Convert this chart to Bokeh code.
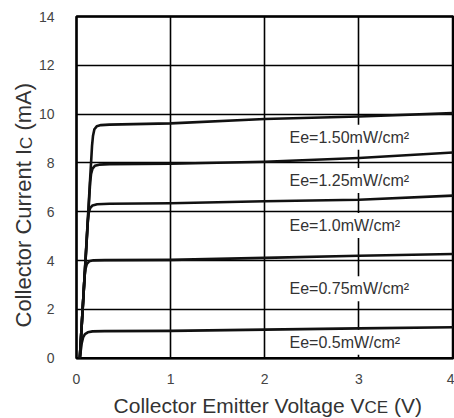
import math
from bokeh.plotting import figure
from bokeh.models import Label, FixedTicker, LinearAxis, Grid
from bokeh.embed import file_html
from bokeh.resources import INLINE

# ---- data ----
x_ticks = [0, 1, 2, 3, 4]
y_ticks = [0, 2, 4, 6, 8, 10, 12, 14]

ee_labels = ["Ee=0.5mW/cm²", "Ee=0.75mW/cm²", "Ee=1.0mW/cm²", "Ee=1.25mW/cm²", "Ee=1.50mW/cm²"]

vce_05 = [0.035, 0.055, 0.07, 0.09, 0.12, 0.17, 0.3, 1.0, 2.0, 3.0, 4.0]
ic_05 = [0.0, 0.6, 0.85, 0.99, 1.06, 1.1, 1.11, 1.12, 1.17, 1.22, 1.27]

vce_075 = [0.035, 0.085, 0.095, 0.11, 0.135, 0.18, 0.3, 1.0, 2.0, 3.0, 4.0]
ic_075 = [0.0, 3.3, 3.65, 3.86, 3.97, 4.01, 4.02, 4.03, 4.11, 4.2, 4.27]

vce_10 = [0.035, 0.12, 0.13, 0.145, 0.17, 0.22, 0.35, 1.0, 2.0, 3.0, 4.0]
ic_10 = [0.0, 5.6, 5.95, 6.15, 6.26, 6.31, 6.33, 6.35, 6.43, 6.49, 6.66]

vce_125 = [0.035, 0.145, 0.155, 0.17, 0.195, 0.24, 0.35, 1.0, 2.0, 3.0, 4.0]
ic_125 = [0.0, 7.2, 7.55, 7.77, 7.88, 7.93, 7.95, 7.97, 8.05, 8.2, 8.43]

vce_150 = [0.035, 0.165, 0.175, 0.19, 0.215, 0.26, 0.35, 1.0, 2.0, 3.0, 4.0]
ic_150 = [0.0, 8.7, 9.1, 9.38, 9.5, 9.55, 9.57, 9.62, 9.8, 9.9, 10.04]

FONT = "Liberation Sans"
TXT = "#333333"

W, H = 454, 418
# pixel positions of the plotting box (x: 0..4, y: 0..14)
PX_L, PX_R, PY_B, PY_T = 76.0, 452.5, 357.7, 16.0
x_lo, x_hi = x_ticks[0], x_ticks[-1]
y_lo, y_hi = y_ticks[0], y_ticks[-1]
sx = (PX_R - PX_L) / (x_hi - x_lo)
sy = (PY_B - PY_T) / (y_hi - y_lo)
xr = (x_lo - PX_L / sx, x_hi + (W - PX_R) / sx)
yr = (y_lo - (H - PY_B) / sy, y_hi + PY_T / sy)

def dx(px):
    return x_lo + (px - PX_L) / sx
def dy(py):
    return y_lo + (PY_B - py) / sy

p = figure(width=W, height=H, x_range=xr, y_range=yr,
           x_axis_type=None, y_axis_type=None,
           output_backend="svg", toolbar_location=None,
           min_border_left=0, min_border_right=0, min_border_top=0, min_border_bottom=0)
p.background_fill_color = "white"
p.border_fill_color = "white"
p.outline_line_color = None

# grid (bounded to the plotting box)
xgrid = Grid(dimension=0, ticker=FixedTicker(ticks=x_ticks), bounds=(x_lo, x_hi), cross_bounds=(y_lo, y_hi),
             grid_line_color="black", grid_line_width=1.6)
ygrid = Grid(dimension=1, ticker=FixedTicker(ticks=y_ticks), bounds=(y_lo, y_hi), cross_bounds=(x_lo, x_hi),
             grid_line_color="black", grid_line_width=1.6)
p.add_layout(xgrid)
p.add_layout(ygrid)

# axes fixed at the box edges
xaxis = LinearAxis(fixed_location=y_lo, ticker=FixedTicker(ticks=x_ticks))
yaxis = LinearAxis(fixed_location=x_lo, ticker=FixedTicker(ticks=y_ticks))
for ax in (xaxis, yaxis):
    ax.axis_line_color = None
    ax.major_tick_line_color = None
    ax.minor_tick_line_color = None
    ax.major_label_text_font = FONT
    ax.major_label_text_font_size = "14px"
    ax.major_label_text_color = "#444444"
xaxis.major_label_standoff = 10
yaxis.major_label_standoff = 16
p.add_layout(xaxis, "below")
p.add_layout(yaxis, "left")

# curve labels with white boxes (under the curves, over the grid)
label_left_px = 285
label_mid_px = [341.7, 288.3, 225.0, 180.0, 136.7]
for txt, py in zip(ee_labels, label_mid_px):
    p.add_layout(Label(x=dx(label_left_px), y=dy(py), text=txt, text_font=FONT, text_font_size="16px",
                       text_color=TXT, text_baseline="middle", text_align="left",
                       background_fill_color="white", padding=4, level="underlay"))

# box outline
p.quad(left=x_lo, right=x_hi, bottom=y_lo, top=y_hi, fill_color=None,
       line_color="black", line_width=2.5)

curves = [(vce_05, ic_05), (vce_075, ic_075), (vce_10, ic_10), (vce_125, ic_125), (vce_150, ic_150)]
for xs, ys in curves:
    p.line(xs, ys, line_color="#111111", line_width=2.6, line_join="round")

MID = 0.3465  # (ascent - descent) / 2 in em, from baseline to box middle

def add_text(x, y, text, size, align="left", angle=0.0):
    p.add_layout(Label(x=x, y=y, text=text, text_font=FONT, text_font_size=f"{size}px",
                       text_color=TXT, text_baseline="middle", text_align=align, angle=angle))

# x-axis title with subscript (baseline at xt_base px)
xt_base = 412
xt_join = 364
f_main, f_sub = 21, 17
add_text(dx(xt_join), dy(xt_base - MID * f_main), "Collector Emitter Voltage V", f_main, align="right")
add_text(dx(xt_join), dy(xt_base + 1 - MID * f_sub), "CE", f_sub)
add_text(dx(xt_join + 1389 * f_sub / 1000 + 278 * f_main / 1000), dy(xt_base - MID * f_main), "(V)", f_main)

# y-axis title (rotated, reading upward) with subscript (baseline at yt_base px)
yt_base = 30.5
yt_start = 327
fy_main = 22
main_w = 8113 * fy_main / 1000
sub_w = 722 * f_sub / 1000
space_w = 278 * fy_main / 1000
add_text(dx(yt_base - MID * fy_main), dy(yt_start), "Collector Current I", fy_main, angle=math.pi / 2)
add_text(dx(yt_base + 1 - MID * f_sub), dy(yt_start - main_w), "C", f_sub, angle=math.pi / 2)
add_text(dx(yt_base - MID * fy_main), dy(yt_start - main_w - sub_w - space_w), "(mA)", fy_main, angle=math.pi / 2)

open("out.html", "w").write(file_html(p, INLINE))
